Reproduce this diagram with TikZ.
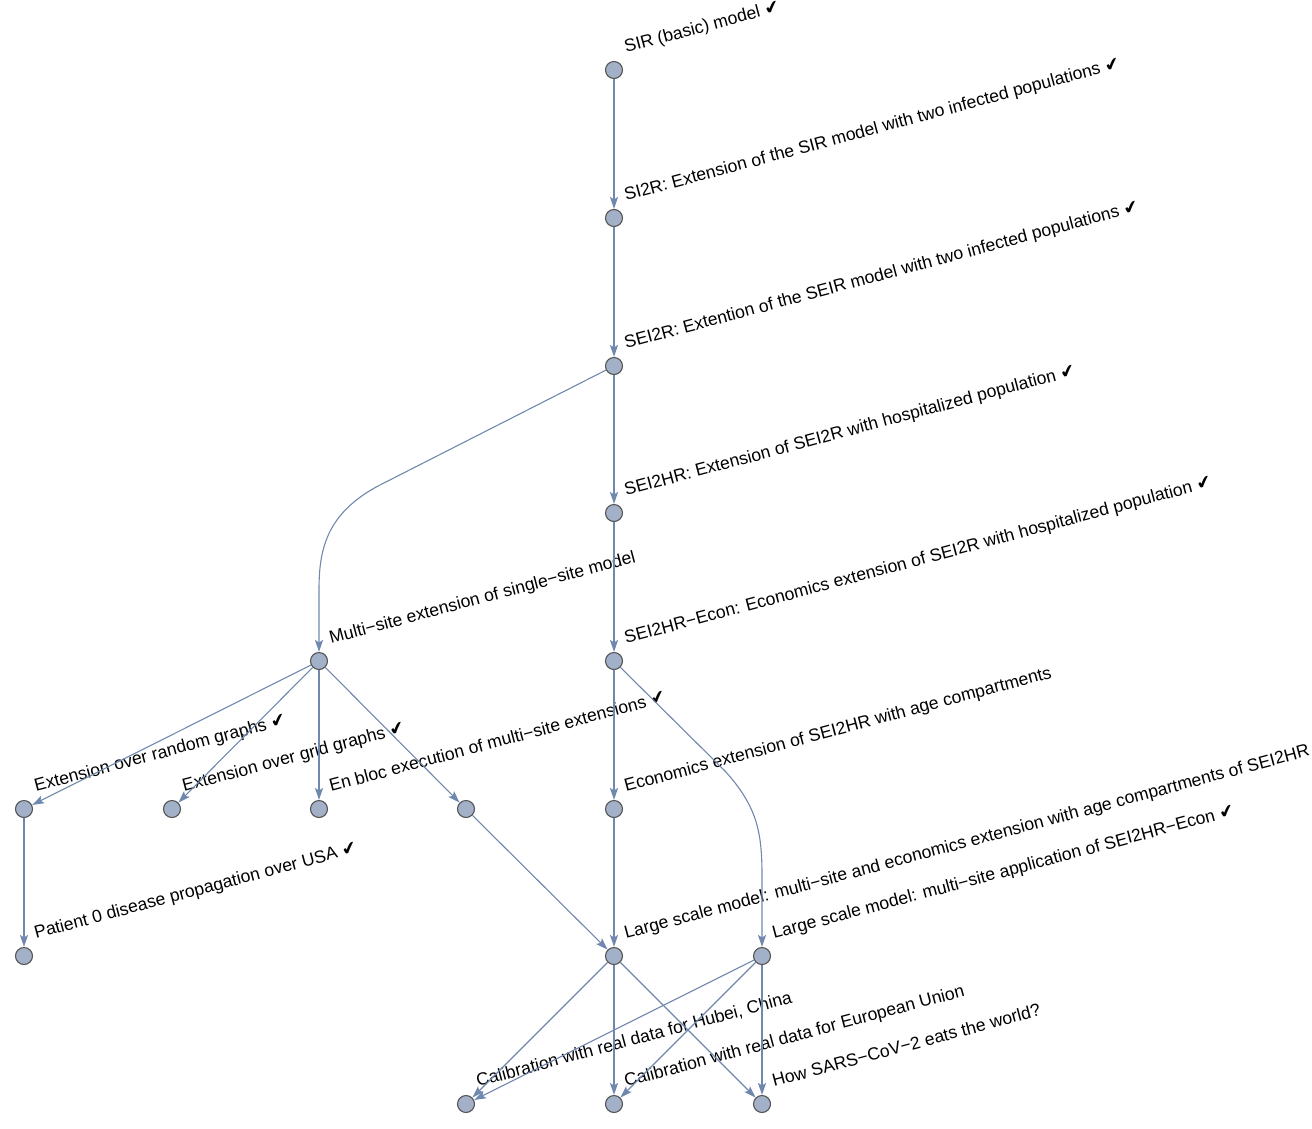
\documentclass[tikz,border=0pt]{standalone}
\usepackage{fontspec}
\setmainfont{Liberation Sans}
\newfontfamily\djv{DejaVu Sans}
\usetikzlibrary{arrows.meta}
\definecolor{vfill}{RGB}{163,177,200}
\definecolor{vline}{RGB}{85,85,85}
\definecolor{ecol}{RGB}{112,136,173}
\newcommand{\ok}{{\djv\fontsize{18}{20}\selectfont ✔}}
\tikzset{
  vert/.style={circle,draw=vline,fill=vfill,line width=1.1pt,minimum size=17pt,inner sep=0pt},
  lab/.style={anchor=base west,rotate=15,inner sep=0pt,font=\fontsize{17.6}{20}\selectfont},
  edge/.style={draw=ecol,line width=1.1pt,-{Stealth[length=12pt,width=8pt,inset=2.5pt]}}
}
\begin{document}
\begin{tikzpicture}[x=1pt,y=-1pt]
\useasboundingbox (0,0) rectangle (1312,1128);
% vertices
\node[vert] (sir) at (614,70) {};
\node[vert] (si2r) at (614,218) {};
\node[vert] (sei2r) at (614,366) {};
\node[vert] (sei2hr) at (614,513) {};
\node[vert] (econ) at (614,661) {};
\node[vert] (multi) at (319,661) {};
\node[vert] (rand) at (24,809) {};
\node[vert] (grid) at (172,809) {};
\node[vert] (enbloc) at (319,809) {};
\node[vert] (anon) at (466,809) {};
\node[vert] (age) at (614,809) {};
\node[vert] (pat) at (24,956) {};
\node[vert] (ls1) at (614,956) {};
\node[vert] (ls2) at (762,956) {};
\node[vert] (hubei) at (466,1104) {};
\node[vert] (eu) at (614,1104) {};
\node[vert] (sars) at (762,1104) {};
% labels
\node[lab] (lsir) at (626,53) {SIR (basic) model \ok};
\node[lab] (lsi2r) at (626,201) {SI2R: Extension of the SIR model with two infected populations \ok};
\node[lab] (lsei2r) at (626,349) {SEI2R: Extention of the SEIR model with two infected populations \ok};
\node[lab] (lsei2hr) at (626,496) {SEI2HR: Extension of SEI2R with hospitalized population \ok};
\node[lab] (lecon) at (626,644) {SEI2HR−Econ: Economics extension of SEI2R with hospitalized population \ok};
\node[lab] (lmulti) at (331,644) {Multi−site extension of single−site model};
\node[lab] (lrand) at (36,792) {Extension over random graphs \ok};
\node[lab] (lgrid) at (184,792) {Extension over grid graphs \ok};
\node[lab] (lenbloc) at (331,792) {En bloc execution of multi−site extensions \ok};
\node[lab] (lage) at (626,792) {Economics extension of SEI2HR with age compartments};
\node[lab] (lpat) at (36,939) {Patient 0 disease propagation over USA \ok};
\node[lab] (lls1) at (626,939) {Large scale model: multi−site and economics extension with age compartments of SEI2HR};
\node[lab] (lls2) at (774,939) {Large scale model: multi−site application of SEI2HR−Econ \ok};
\node[lab] (lhubei) at (478,1087) {Calibration with real data for Hubei, China};
\node[lab] (leu) at (626,1087) {Calibration with real data for European Union};
\node[lab] (lsars) at (774,1087) {How SARS−CoV−2 eats the world?};
% curve helper coordinates
\coordinate (a1) at (378,486);
\coordinate (a2) at (326,514);
\coordinate (a3) at (319,550);
\coordinate (a4) at (319,590);
\coordinate (b1) at (726,772);
\coordinate (b2) at (756,806);
\coordinate (b3) at (762,830);
\coordinate (b4) at (762,875);
% edges
\draw[edge] (sir) -- (si2r);
\draw[edge] (si2r) -- (sei2r);
\draw[edge] (sei2r) -- (sei2hr);
\draw[edge] (sei2r) -- (a1) .. controls (a2) and (a3) .. (a4) -- (multi);
\draw[edge] (sei2hr) -- (econ);
\draw[edge] (multi) -- (rand);
\draw[edge] (multi) -- (grid);
\draw[edge] (multi) -- (enbloc);
\draw[edge] (multi) -- (anon);
\draw[edge] (econ) -- (age);
\draw[edge] (econ) -- (b1) .. controls (b2) and (b3) .. (b4) -- (ls2);
\draw[edge] (rand) -- (pat);
\draw[edge] (anon) -- (ls1);
\draw[edge] (age) -- (ls1);
\draw[edge] (ls1) -- (hubei);
\draw[edge] (ls1) -- (eu);
\draw[edge] (ls1) -- (sars);
\draw[edge] (ls2) -- (hubei);
\draw[edge] (ls2) -- (eu);
\draw[edge] (ls2) -- (sars);
\end{tikzpicture}
\end{document}
